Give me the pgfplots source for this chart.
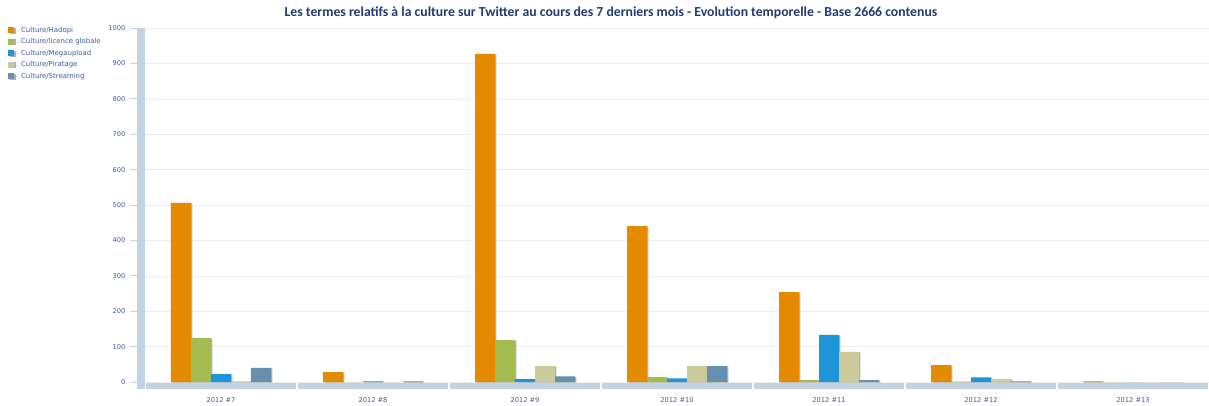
\documentclass[border=0pt]{standalone}
\usepackage{pgfplots}
\pgfplotsset{compat=1.18}
\usepackage{fontspec}
\setmainfont{DejaVu Sans}
\newfontfamily\titlefont{Carlito}
\definecolor{cHadopi}{HTML}{E38A00}
\definecolor{cLicence}{HTML}{A3BC4F}
\definecolor{cMega}{HTML}{1E95D9}
\definecolor{cPir}{HTML}{CBCB9C}
\definecolor{cStream}{HTML}{6690AE}
\definecolor{band}{HTML}{C3D3E3}
\definecolor{lbl}{HTML}{3A5BA0}
\definecolor{ttl}{HTML}{1F3B73}
\begin{document}
\begin{tikzpicture}
\path[use as bounding box] (-108.75pt,-17.25pt) rectangle (798pt,286.5pt);
\begin{axis}[
    at={(0,0)}, anchor=south west,
    scale only axis,
    width=798pt, height=265.5pt,
    ybar=0pt, bar width=15pt,
    xmin=-0.5, xmax=6.5,
    ymin=0, ymax=1000,
    xtick={0,1,2,3,4,5,6},
    xticklabels={2012 \#7, 2012 \#8, 2012 \#9, 2012 \#10, 2012 \#11, 2012 \#12, 2012 \#13},
    ytick={0,100,...,1000},
    ytick pos=left,
    axis line style={draw=none},
    xtick style={draw=none},
    ytick style={draw=band, line width=0.6pt},
    tick align=outside,
    major tick length=11.25pt,
    ymajorgrids,
    grid style={draw=black!7, line width=0.4pt},
    /pgf/number format/assume math mode=true,
    /pgf/number format/1000 sep={},
    tick label style={font=\fontsize{5}{6}\selectfont, text=lbl},
    xticklabel style={yshift=3pt},
    clip=false,
    legend cell align=left,
    legend style={at={(-0.1288,1.008)}, anchor=north west, draw=none, fill=none,
        font=\fontsize{5.2}{6}\selectfont, text=lbl,
        row sep=0.8pt, inner sep=0pt, nodes={inner sep=1.2pt}},
    legend image code/.code={\fill[#1,draw=none] (0pt,-2pt) rectangle (4.5pt,2.5pt); \path (0pt,0pt) -- (8.5pt,0pt);},
    every axis plot/.append style={draw=none},
]
\addplot[fill=cHadopi, preaction={fill=black!30, transform canvas={xshift=1.1pt,yshift=-0.4pt}}] coordinates {(0,506) (1,28) (2,927) (3,440) (4,254) (5,48) (6,2)};
\addplot[fill=cLicence, preaction={fill=black!30, transform canvas={xshift=1.1pt,yshift=-0.4pt}}] coordinates {(0,124) (1,0) (2,118) (3,14) (4,5) (5,1) (6,0)};
\addplot[fill=cMega, preaction={fill=black!30, transform canvas={xshift=1.1pt,yshift=-0.4pt}}] coordinates {(0,22) (1,2) (2,8) (3,10) (4,133) (5,13) (6,0)};
\addplot[fill=cPir, preaction={fill=black!30, transform canvas={xshift=1.1pt,yshift=-0.4pt}}] coordinates {(0,2) (1,0) (2,45) (3,45) (4,85) (5,8) (6,0)};
\addplot[fill=cStream, preaction={fill=black!30, transform canvas={xshift=1.1pt,yshift=-0.4pt}}] coordinates {(0,40) (1,2) (2,16) (3,45) (4,5) (5,2) (6,0)};
\legend{Culture/Hadopi, Culture/licence globale, Culture/Megaupload, Culture/Piratage, Culture/Streaming}
\end{axis}
\fill[band] (-6pt,-5pt) rectangle (0pt,265.5pt);
\foreach \i in {0,...,6} {
  \fill[band] (\i*114pt+1pt,-1pt) rectangle (\i*114pt+113pt,-5pt);
}
\node[font=\titlefont\bfseries\fontsize{10.3}{12}\selectfont, text=ttl] at (349.5pt,276.75pt) {Les termes relatifs à la culture sur Twitter au cours des 7 derniers mois - Evolution temporelle - Base 2666 contenus};
\end{tikzpicture}
\end{document}
